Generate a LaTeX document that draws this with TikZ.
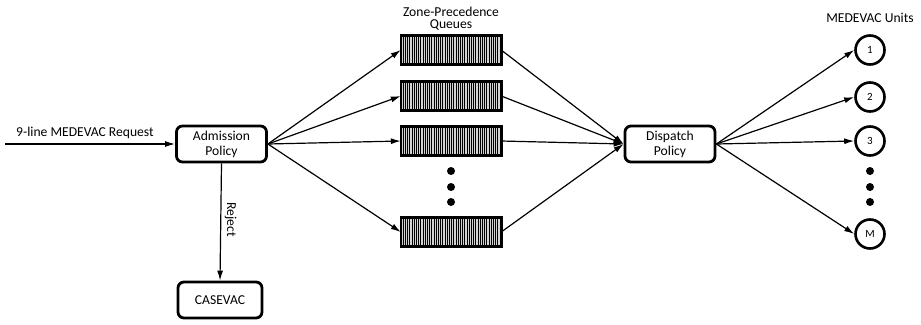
\documentclass[tikz,border=0pt]{standalone}
\usepackage{fontspec}
\setmainfont{Carlito}
\usetikzlibrary{arrows.meta,calc}
\begin{document}
\begin{tikzpicture}[x=1pt,y=-1pt,
  font=\fontsize{13.6}{15}\selectfont,
  policy/.style={draw,line width=2.8pt,rounded corners=6pt,minimum width=90pt,minimum height=36pt,align=center,inner sep=2pt},
  unit/.style={draw,circle,line width=2.6pt,minimum size=29pt,inner sep=0pt,font=\fontsize{11}{12}\selectfont},
  arr/.style={-{Latex[length=10pt,width=6pt]},line width=1.2pt},
  bigdot/.style={circle,fill,minimum size=8pt,inner sep=0pt}]
\useasboundingbox (0,0) rectangle (921,324);

% queue symbol: grey bar with vertical stripes
\newcommand{\queuebar}[2]{%
  \node[minimum width=100pt,minimum height=29pt,inner sep=0pt] (#1) at (451,#2) {};
  \fill[gray!35] (#1.south west) rectangle (#1.north east);
  \foreach \k in {1,...,44}
    \draw[line width=0.6pt] ($(#1.north west)+(\k*2.2,0)$) -- ($(#1.south west)+(\k*2.2,0)$);
  \draw[line width=2.6pt] (#1.south west) rectangle (#1.north east);
}

\node[policy] (adm) at (221.5,144) {Admission\\Policy};
\node[policy] (disp) at (670,144) {Dispatch\\Policy};
\node[policy,minimum width=84pt] (cas) at (220,300) {CASEVAC};

\coordinate (src) at (5,144);
\draw[arr] (src) -- node[above=1pt,pos=0.47] (reqlbl) {9-line MEDEVAC Request} (adm.west);

\draw[arr] (adm.south) -- node[pos=0.48,rotate=-90,anchor=south] (rejlbl) {Reject} (cas.north);

\node[align=center] (qtitle) at (451,19) {Zone-Precedence\\[-3pt]Queues};
\node (utitle) at (870,18) {MEDEVAC Units};

\queuebar{q1}{50}
\queuebar{q2}{96}
\queuebar{q3}{141}
\queuebar{q4}{232}

\node[bigdot] (qd1) at (451,171) {};
\node[bigdot] (qd2) at (451,187) {};
\node[bigdot] (qd3) at (451,202) {};

\node[unit] (u1) at (870,50) {1};
\node[unit] (u2) at (870,97) {2};
\node[unit] (u3) at (870,141) {3};
\node[unit] (uM) at (870,234) {M};

\node[bigdot] (ud1) at (870,171) {};
\node[bigdot] (ud2) at (870,187) {};
\node[bigdot] (ud3) at (870,202) {};

\foreach \q in {q1,q2,q3,q4} {
  \draw[arr] (adm.east) -- (\q.west);
  \draw[arr] (\q.east) -- (disp.west);
}
\foreach \u in {u1,u2,u3,uM}
  \draw[arr] (disp.east) -- (\u.west);
\end{tikzpicture}
\end{document}
